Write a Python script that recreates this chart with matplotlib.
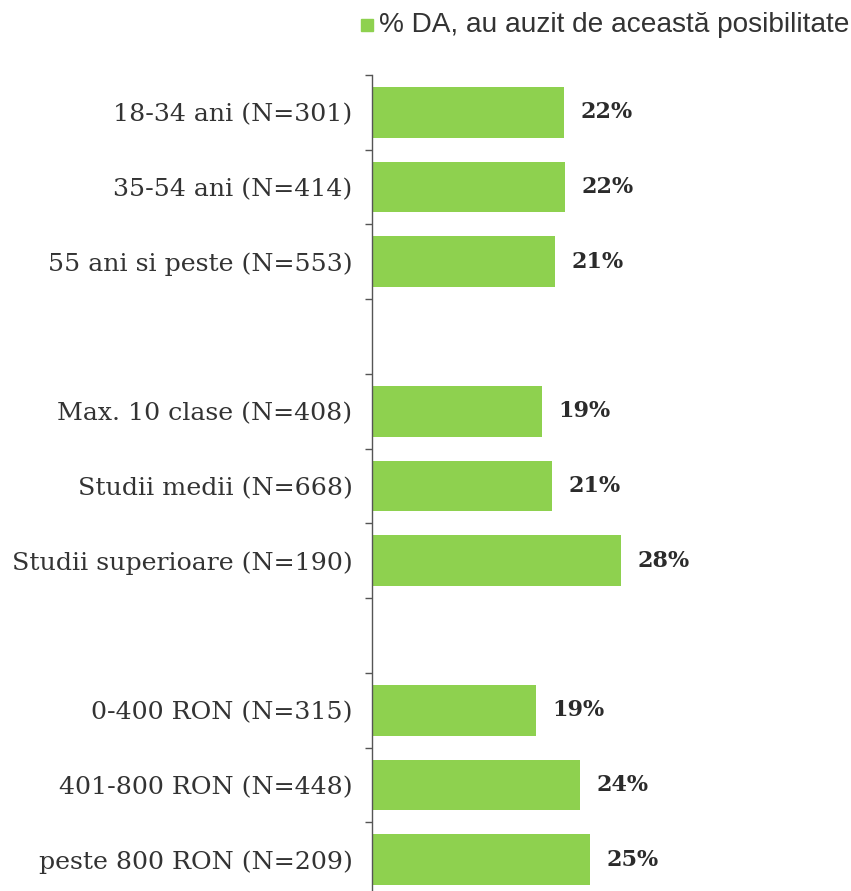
import matplotlib
matplotlib.use("Agg")
import matplotlib.pyplot as plt
from matplotlib.patches import Rectangle

categories = ["18-34 ani (N=301)", "35-54 ani (N=414)", "55 ani si peste (N=553)", "",
              "Max. 10 clase (N=408)", "Studii medii (N=668)", "Studii superioare (N=190)", "",
              "0-400 RON (N=315)", "401-800 RON (N=448)", "peste 800 RON (N=209)"]
values = [21.9, 22.0, 20.9, None, 19.4, 20.6, 28.4, None, 18.7, 23.8, 24.9]
labels = ["22%", "22%", "21%", "", "19%", "21%", "28%", "", "19%", "24%", "25%"]
series_name = "% DA, au auzit de această posibilitate"

GREEN = "#8ED14F"
W, H = 851, 891
fig = plt.figure(figsize=(W / 100, H / 100), dpi=100)
ax = fig.add_axes([372 / W, (H - 897) / H, (W - 372) / W, 822 / H])

n = len(categories)
ys = list(range(n))
for y, v, lab in zip(ys, values, labels):
    if v is None:
        continue
    ax.barh(y, v, height=0.68, color=GREEN, edgecolor="none")
    ax.annotate(lab, (v, y), xytext=(12, 0), textcoords="offset points",
                ha="left", va="center", fontsize=16, fontweight="bold",
                family="DejaVu Serif", color="#2b2b2b")

ax.set_xlim(0, (W - 372) / 8.75)
ax.set_ylim(n - 0.5, -0.5)
ax.set_yticks([y + 0.5 for y in range(-1, n)], minor=False)
ax.set_yticklabels([])
ax.set_yticks(ys, minor=True)
ax.set_yticklabels(categories, minor=True, family="DejaVu Serif", fontsize=18.2, color="#333333")
ax.tick_params(axis="y", which="minor", length=0, pad=14)
ax.tick_params(axis="y", which="major", length=5, width=1, color="#555555", direction="out")
ax.set_xticks([])
for s in ["top", "right", "bottom"]:
    ax.spines[s].set_visible(False)
ax.spines["left"].set_color("#555555")
ax.spines["left"].set_linewidth(1)

# legend
fig.patches.append(Rectangle((361 / W, (H - 31) / H), 12 / W, 12 / H,
                             transform=fig.transFigure, color=GREEN))
fig.text(379 / W, (H - 25) / H, series_name, ha="left", va="center",
         fontsize=20.2, family="Liberation Sans", color="#333333")

fig.savefig("out.png", dpi=100)
